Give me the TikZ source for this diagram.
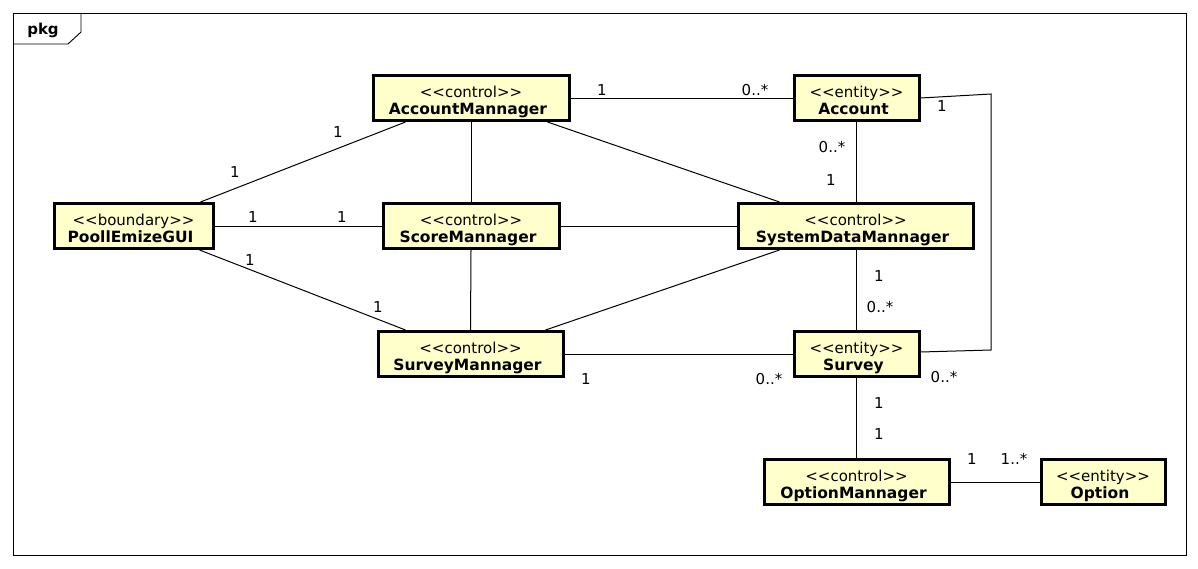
\documentclass[tikz,border=0pt]{standalone}
\usepackage{fontspec}
\setmainfont{DejaVu Sans}
\usetikzlibrary{calc}
\definecolor{clsfill}{RGB}{255,255,204}
\tikzset{
  cls/.style={draw=black, line width=3pt, fill=clsfill, minimum height=45, inner sep=0pt},
  stereo/.style={inner sep=0pt, font=\fontsize{15}{18}\selectfont},
  ctitle/.style={inner sep=0pt, font=\fontsize{15.5}{18}\selectfont\bfseries},
  assoc/.style={draw=black, line width=1pt},
  mult/.style={inner sep=0pt, font=\fontsize{15}{18}\selectfont},
  frame/.style={draw=black, line width=0.9pt}
}
\newcommand\umlclass[6]{%
  \node[cls, minimum width=#4] (#1) at (#2,#3) {};
  \node[stereo, anchor=base] (#1-s) at ($(#1.center)+(0,-1)$) {<{}<#5>{}>};
  \node[ctitle, anchor=base] (#1-t) at ($(#1.center)+(-3,16)$) {#6};
}
\begin{document}
\begin{tikzpicture}[x=1pt, y=-1pt]
\useasboundingbox (0,0) rectangle (1198,568);
% frame
\draw[frame] (13,13) rectangle (1186,555);
\draw[frame] (13,44) -- (68,44) -- (81,32) -- (81,13);
\node[inner sep=0pt, font=\fontsize{15}{17}\selectfont\bfseries] (pkg) at (43,30) {pkg};

% classes
\umlclass{am}{471}{98}{196}{control}{AccountMannager}
\umlclass{acc}{856.5}{98}{125}{entity}{Account}
\umlclass{gui}{133.5}{226}{159}{boundary}{PoollEmizeGUI}
\umlclass{sc}{471}{226}{176}{control}{ScoreMannager}
\umlclass{sdm}{855.5}{226}{235}{control}{SystemDataMannager}
\umlclass{sm}{470.5}{354}{185}{control}{SurveyMannager}
\umlclass{sv}{856.5}{354}{125}{entity}{Survey}
\umlclass{om}{856.5}{482}{185}{control}{OptionMannager}
\umlclass{op}{1103}{482}{124}{entity}{Option}

% connector corner points
\coordinate (c1) at (991,94);
\coordinate (c2) at (991,350);

% associations
\draw[assoc] (am.east) -- (acc.west);
\draw[assoc] (acc.south) -- (acc.south |- sdm.north);
\draw[assoc] (acc.east) -- (c1) -- (c2) -- ($(sv.east)+(0,-2)$);
\draw[assoc] ($(am.south west)+(34,0)$) -- ($(gui.north east)+(-14,0)$);
\draw[assoc] (am.south) -- (sc.north);
\draw[assoc] ($(am.south east)+(-23,0)$) -- ($(sdm.north west)+(43,0)$);
\draw[assoc] (gui.east) -- (sc.west);
\draw[assoc] ($(gui.south east)+(-15,0)$) -- ($(sm.north west)+(29,0)$);
\draw[assoc] (sc.east) -- (sdm.west);
\draw[assoc] (sc.south) -- (sm.north);
\draw[assoc] ($(sdm.south west)+(43,0)$) -- ($(sm.north east)+(-19,0)$);
\draw[assoc] (sv.north |- sdm.south) -- (sv.north);
\draw[assoc] (sm.east) -- (sv.west);
\draw[assoc] (sv.south) -- (om.north);
\draw[assoc] (om.east) -- (op.west);

% multiplicities
\node[mult] (m1) at (602,90) {1};
\node[mult] (m2) at (755,90) {0..*};
\node[mult] (m3) at (832,147) {0..*};
\node[mult] (m4) at (831,180) {1};
\node[mult] (m5) at (942,106) {1};
\node[mult] (m6) at (944,377) {0..*};
\node[mult] (m7) at (338,132) {1};
\node[mult] (m8) at (235,172) {1};
\node[mult] (m9) at (253,217) {1};
\node[mult] (m10) at (342,217) {1};
\node[mult] (m11) at (250,260) {1};
\node[mult] (m12) at (378,307) {1};
\node[mult] (m13) at (879,276) {1};
\node[mult] (m14) at (880,307) {0..*};
\node[mult] (m15) at (586,379) {1};
\node[mult] (m16) at (769,379) {0..*};
\node[mult] (m17) at (879,403) {1};
\node[mult] (m18) at (879,434) {1};
\node[mult] (m19) at (972,459) {1};
\node[mult] (m20) at (1014,459) {1..*};
\end{tikzpicture}
\end{document}
